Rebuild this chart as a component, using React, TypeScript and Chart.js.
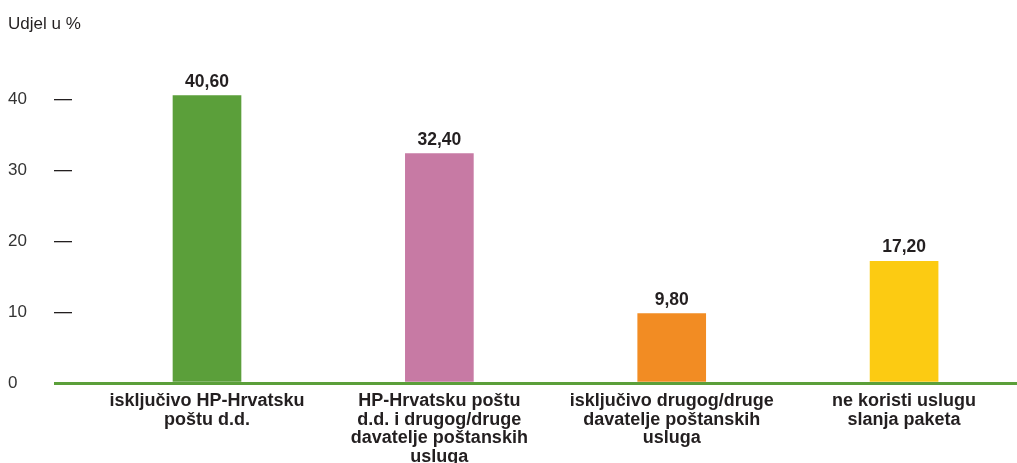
import React, { useEffect, useRef } from "react";
import { Chart, registerables } from "chart.js";

Chart.register(...registerables);

const categories: string[][] = [
  ["isključivo HP-Hrvatsku", "poštu d.d."],
  ["HP-Hrvatsku poštu", "d.d. i drugog/druge", "davatelje poštanskih", "usluga"],
  ["isključivo drugog/druge", "davatelje poštanskih", "usluga"],
  ["ne koristi uslugu", "slanja paketa"],
];
const values: number[] = [40.6, 32.4, 9.8, 17.2];
const valueLabels: string[] = ["40,60", "32,40", "9,80", "17,20"];
const barColors: string[] = ["#5b9f3a", "#c77aa4", "#f28c23", "#fccb12"];
const yTicks: number[] = [0, 10, 20, 30, 40];
const yTitle = "Udjel u %";

const FONT = "'Liberation Sans', Arial, Helvetica, sans-serif";
const GREEN = "#5b9f3a";

const valueLabelPlugin = {
  id: "valueLabels",
  afterDatasetsDraw(chart: any) {
    const ctx = chart.ctx;
    const meta = chart.getDatasetMeta(0);
    ctx.save();
    ctx.font = `bold 17.5px ${FONT}`;
    ctx.fillStyle = "#231f20";
    ctx.textAlign = "center";
    ctx.textBaseline = "alphabetic";
    meta.data.forEach((bar: any, i: number) => {
      ctx.fillText(valueLabels[i], bar.x, bar.y - 9);
    });
    ctx.restore();
  },
};

export default function App() {
  const ref = useRef<HTMLCanvasElement>(null);
  useEffect(() => {
    if (!ref.current) return;
    const chart = new Chart(ref.current, {
      type: "bar",
      data: {
        datasets: [
          {
            data: values.map((v, i) => ({ x: i, y: v })),
            backgroundColor: barColors,
            barThickness: 68,
            borderWidth: 0,
          },
        ],
      },
      options: {
        responsive: false,
        animation: false,
        layout: { padding: { left: 8, right: 0, top: 0, bottom: 0 } },
        plugins: {
          legend: { display: false },
          tooltip: { enabled: false },
          title: {
            display: true,
            text: yTitle,
            align: "start",
            color: "#231f20",
            font: { family: FONT, size: 17, weight: "normal", lineHeight: 1.2 },
            padding: { top: 14, bottom: 30 },
          },
        },
        scales: {
          x: {
            type: "linear",
            offset: false,
            min: -0.581,
            max: 3.486,
            grid: { display: false, drawTicks: false, offset: false },
            border: { display: true, color: GREEN, width: 3 },
            ticks: {
              stepSize: 1,
              includeBounds: false,
              autoSkip: false,
              maxRotation: 0,
              padding: 9,
              color: "#231f20",
              font: { family: FONT, size: 18, weight: "bold", lineHeight: 1.03 },
              callback: (v: any) => {
                const n = Number(v);
                return Number.isInteger(n) && categories[n] ? categories[n] : "";
              },
            },
            afterFit: (s: any) => {
              s.height = 80;
            },
          },
          y: {
            type: "linear",
            min: 0,
            max: 45,
            afterBuildTicks: (s: any) => {
              s.ticks = yTicks.map((v) => ({ value: v }));
            },
            grid: {
              drawOnChartArea: false,
              drawTicks: true,
              tickLength: 18,
              color: (c: any) => (c.tick && c.tick.value === 0 ? GREEN : "#231f20"),
              lineWidth: (c: any) => (c.tick && c.tick.value === 0 ? 3 : 1.3),
            },
            border: { display: false },
            ticks: {
              crossAlign: "far",
              padding: 4,
              color: "#333333",
              font: { family: FONT, size: 17 },
            },
            afterFit: (s: any) => {
              s.width = 64;
            },
          },
        },
      },
      plugins: [valueLabelPlugin],
    } as any);
    return () => chart.destroy();
  }, []);
  return (
    <canvas
      ref={ref}
      width={1017}
      height={463}
      style={{ position: "absolute", left: 0, top: 0, display: "block" }}
    />
  );
}
